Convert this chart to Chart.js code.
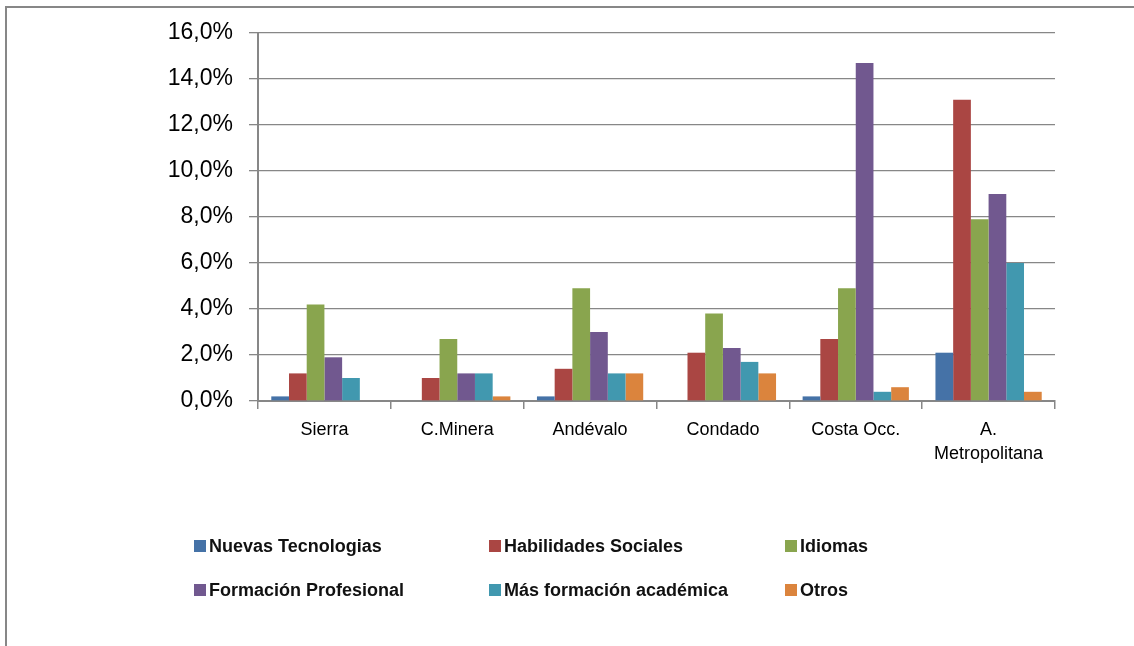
<!DOCTYPE html>
<html>
<head>
<meta charset="utf-8">
<script src="https://cdn.jsdelivr.net/npm/chart.js@4.4.1/dist/chart.umd.min.js"></script>
<style>
  html, body { margin: 0; padding: 0; background: #fff; }
  #wrap { position: relative; width: 1134px; height: 646px; overflow: hidden; }
  #frame {
    position: absolute; left: 5px; top: 6px; right: -10px; bottom: -10px;
    border-left: 2.5px solid #878787; border-top: 2.5px solid #878787;
  }
  #chart { position: absolute; left: 0; top: 0; }
  .legend-item {
    position: absolute; display: flex; align-items: center;
    font-family: "Liberation Sans", Arial, sans-serif; font-size: 18px; font-weight: bold;
    color: #111; white-space: nowrap; height: 20px;
  }
  .legend-item .box { width: 12px; height: 12px; margin-right: 3px; }
</style>
</head>
<body>
<div id="wrap">
  <div id="frame"></div>
  <canvas id="chart" width="1134" height="646"></canvas>
  <div id="legend"></div>
</div>
<script>
// DATA
const categories = ['Sierra', 'C.Minera', 'Andévalo', 'Condado', 'Costa Occ.', ['A.', 'Metropolitana']];
const seriesNames = ['Nuevas Tecnologias', 'Habilidades Sociales', 'Idiomas',
  'Formación Profesional', 'Más formación académica', 'Otros'];
const nuevasTecnologias   = [0.2, 0.0, 0.2, 0.0, 0.2, 2.1];
const habilidadesSociales = [1.2, 1.0, 1.4, 2.1, 2.7, 13.1];
const idiomas             = [4.2, 2.7, 4.9, 3.8, 4.9, 7.9];
const formacionProf       = [1.9, 1.2, 3.0, 2.3, 14.7, 9.0];
const masFormacion        = [1.0, 1.2, 1.2, 1.7, 0.4, 6.0];
const otros               = [0.0, 0.2, 1.2, 1.2, 0.6, 0.4];
const yTicks = [0, 2, 4, 6, 8, 10, 12, 14, 16];

const colors = ['#4572A7', '#AA4643', '#89A54E', '#71588F', '#4198AF', '#DB843D'];
const seriesValues = [nuevasTecnologias, habilidadesSociales, idiomas, formacionProf, masFormacion, otros];

const gridColor = '#878787';
const font = 'Liberation Sans';

const chart = new Chart(document.getElementById('chart').getContext('2d'), {
  type: 'bar',
  data: {
    labels: categories,
    datasets: seriesNames.map((name, i) => ({
      label: name,
      data: seriesValues[i],
      backgroundColor: colors[i],
      borderWidth: 0,
      categoryPercentage: 0.8,
      barPercentage: 1.0
    }))
  },
  options: {
    responsive: false,
    animation: false,
    layout: { padding: { left: 0, top: 33, right: 79, bottom: 0 } },
    plugins: {
      legend: { display: false },
      tooltip: { enabled: false }
    },
    scales: {
      x: {
        grid: {
          offset: true,
          drawOnChartArea: false,
          drawTicks: true,
          tickLength: 8,
          color: gridColor,
          lineWidth: 1.5
        },
        border: { color: gridColor, width: 2 },
        ticks: {
          color: '#000',
          padding: 10,
          maxRotation: 0,
          autoSkip: false,
          font: { family: font, size: 18, lineHeight: 1.28 }
        },
        afterFit: s => { s.height = 245; }
      },
      y: {
        min: 0,
        max: 16,
        afterBuildTicks: s => { s.ticks = yTicks.map(v => ({ value: v })); },
        grid: {
          color: gridColor,
          lineWidth: 1.3,
          drawTicks: true,
          tickLength: 9
        },
        border: { color: gridColor, width: 2 },
        ticks: {
          color: '#000',
          padding: 16,
          font: { family: font, size: 23 },
          callback: v => v.toFixed(1).replace('.', ',') + '%'
        },
        afterFit: s => { s.width = 258; }
      }
    }
  }
});

// LEGEND (3 columns x 2 rows)
const legendCols = [194, 489, 785];
const legendRows = [546, 590];
const legendEl = document.getElementById('legend');
chart.data.datasets.forEach((ds, i) => {
  const item = document.createElement('div');
  item.className = 'legend-item';
  item.style.left = legendCols[i % 3] + 'px';
  item.style.top = (legendRows[Math.floor(i / 3)] - 10) + 'px';
  item.innerHTML = `<span class="box" style="background:${ds.backgroundColor}"></span>${ds.label}`;
  legendEl.appendChild(item);
});
</script>
</body>
</html>
